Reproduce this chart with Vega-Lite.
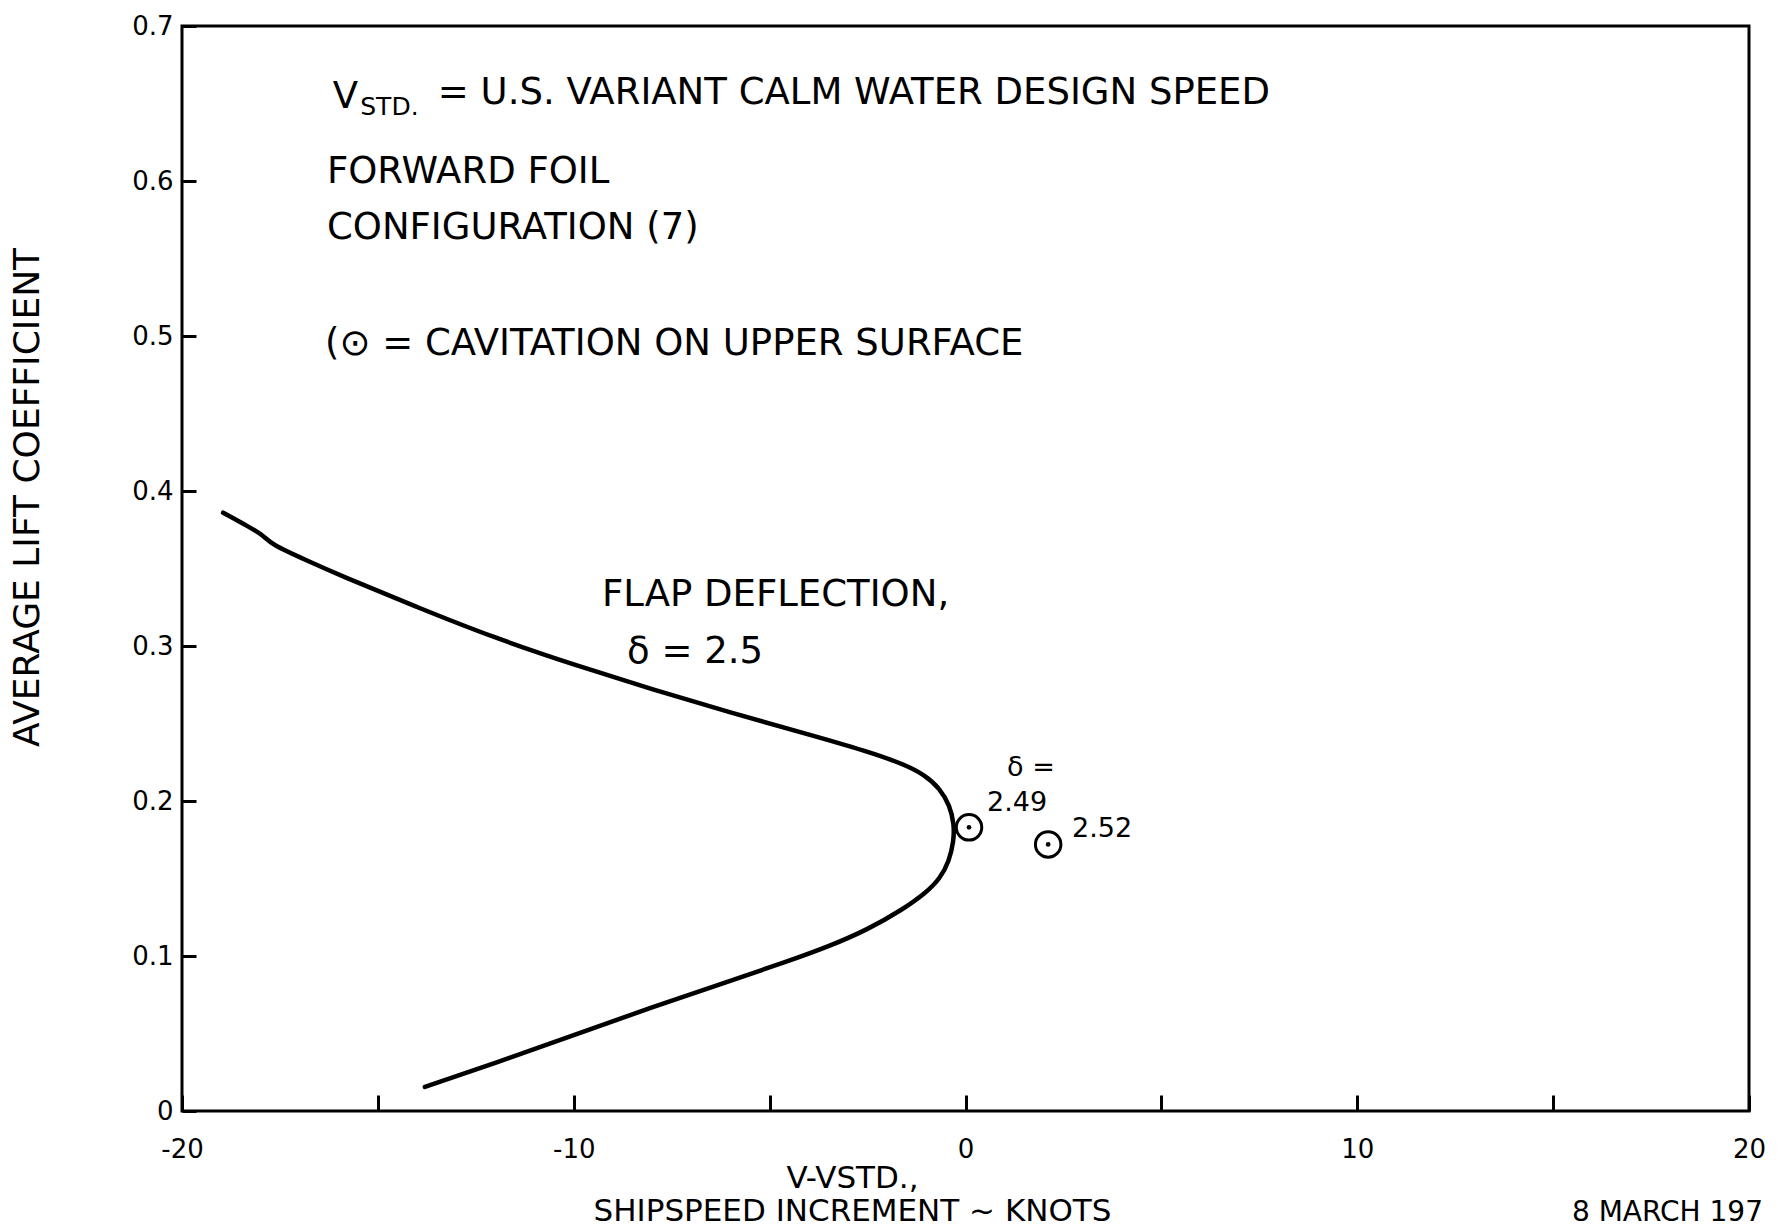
{
  "$schema": "https://vega.github.io/schema/vega-lite/v6.json",
  "width": 1567,
  "height": 1085,
  "autosize": {"type": "none"},
  "padding": {"left": 182, "top": 26, "right": 32, "bottom": 118},
  "background": "white",
  "config": {
    "view": {"stroke": "black", "strokeWidth": 3},
    "font": "DejaVu Sans",
    "text": {"font": "DejaVu Sans", "color": "black"}
  },
  "datasets": {
    "curve": [
      {"v": -18.95, "cl": 0.386},
      {"v": -18.3, "cl": 0.377},
      {"v": -17.9, "cl": 0.371},
      {"v": -17.75, "cl": 0.366},
      {"v": -16.8, "cl": 0.355},
      {"v": -16.0, "cl": 0.346},
      {"v": -14.0, "cl": 0.325},
      {"v": -12.0, "cl": 0.305},
      {"v": -10.0, "cl": 0.288},
      {"v": -8.0, "cl": 0.272},
      {"v": -6.0, "cl": 0.257},
      {"v": -4.0, "cl": 0.243},
      {"v": -2.5, "cl": 0.232},
      {"v": -1.6, "cl": 0.224},
      {"v": -1.05, "cl": 0.217},
      {"v": -0.65, "cl": 0.208},
      {"v": -0.4, "cl": 0.197},
      {"v": -0.29, "cl": 0.185},
      {"v": -0.3, "cl": 0.174},
      {"v": -0.42, "cl": 0.161},
      {"v": -0.65, "cl": 0.150},
      {"v": -1.0, "cl": 0.141},
      {"v": -1.6, "cl": 0.130},
      {"v": -2.5, "cl": 0.117},
      {"v": -3.5, "cl": 0.106},
      {"v": -4.6, "cl": 0.096},
      {"v": -6.0, "cl": 0.084},
      {"v": -8.0, "cl": 0.067},
      {"v": -10.0, "cl": 0.049},
      {"v": -12.0, "cl": 0.031},
      {"v": -13.8, "cl": 0.0155}
    ],
    "cavitation": [
      {"v": 0.09, "cl": 0.183, "delta": 2.49},
      {"v": 2.11, "cl": 0.172, "delta": 2.52}
    ],
    "bigText": [
      {"v": -16.15, "cl": 0.654, "t": "V"},
      {"v": -13.47, "cl": 0.657, "t": "= U.S. VARIANT CALM WATER DESIGN SPEED"},
      {"v": -16.30, "cl": 0.606, "t": "FORWARD FOIL"},
      {"v": -16.30, "cl": 0.570, "t": "CONFIGURATION (7)"},
      {"v": -16.35, "cl": 0.495, "t": "(⊙ = CAVITATION ON UPPER SURFACE"},
      {"v": -9.28, "cl": 0.333, "t": "FLAP DEFLECTION,"},
      {"v": -8.64, "cl": 0.296, "t": "δ = 2.5"}
    ],
    "subText": [
      {"v": -15.45, "cl": 0.648, "t": "STD."}
    ],
    "smallText": [
      {"v": 1.06, "cl": 0.221, "t": "δ ="},
      {"v": 0.55, "cl": 0.199, "t": "2.49"},
      {"v": 2.72, "cl": 0.182, "t": "2.52"}
    ],
    "dateText": [
      {"v": 15.48, "cl": -0.066, "t": "8 MARCH 197"}
    ]
  },
  "layer": [
    {
      "data": {"name": "curve"},
      "mark": {"type": "line", "color": "black", "strokeWidth": 4.5, "interpolate": "basis", "strokeCap": "round"},
      "encoding": {
        "x": {
          "field": "v",
          "type": "quantitative",
          "scale": {"domain": [-20, 20], "nice": false, "zero": false},
          "axis": {
            "title": ["V-VSTD.,", "SHIPSPEED INCREMENT ~ KNOTS"],
            "values": [-20, -15, -10, -5, 0, 5, 10, 15, 20],
            "labelExpr": "datum.value % 10 === 0 ? '' + datum.value : ''",
            "domain": false,
            "grid": false,
            "offset": -16,
            "tickSize": 16,
            "tickWidth": 3,
            "tickColor": "black",
            "labelPadding": 25,
            "labelFontSize": 26,
            "labelColor": "black",
            "labelFont": "DejaVu Sans",
            "labelFlush": false,
            "labelOverlap": false,
            "labelBound": false,
            "titleFont": "DejaVu Sans",
            "titleFontSize": 31,
            "titleFontWeight": "normal",
            "titleColor": "black",
            "titleX": 670,
            "titleY": 68,
            "titleAlign": "center",
            "titleBaseline": "top",
            "titleLineHeight": 33
          }
        },
        "y": {
          "field": "cl",
          "type": "quantitative",
          "scale": {"domain": [0, 0.7], "nice": false},
          "axis": {
            "title": "AVERAGE LIFT COEFFICIENT",
            "values": [0, 0.1, 0.2, 0.3, 0.4, 0.5, 0.6, 0.7],
            "labelExpr": "datum.value === 0 ? '0' : format(datum.value, '.1f')",
            "domain": false,
            "grid": false,
            "offset": -14,
            "tickSize": 14,
            "tickWidth": 3,
            "tickColor": "black",
            "labelPadding": 9,
            "labelFontSize": 26,
            "labelColor": "black",
            "labelFont": "DejaVu Sans",
            "labelFlush": false,
            "labelOverlap": false,
            "labelBound": false,
            "titleFont": "DejaVu Sans",
            "titleFontSize": 36,
            "titleFontWeight": "normal",
            "titleColor": "black",
            "titleAngle": 270,
            "titleX": -169,
            "titleY": 471,
            "titleAlign": "center",
            "titleBaseline": "middle"
          }
        },
        "order": {"field": "cl", "type": "quantitative"}
      }
    },
    {
      "data": {"name": "cavitation"},
      "mark": {"type": "point", "shape": "circle", "filled": false, "size": 650, "color": "black", "strokeWidth": 3, "opacity": 1},
      "encoding": {
        "x": {"field": "v", "type": "quantitative"},
        "y": {"field": "cl", "type": "quantitative"}
      }
    },
    {
      "data": {"name": "cavitation"},
      "mark": {"type": "point", "shape": "circle", "filled": true, "size": 22, "color": "black", "opacity": 1},
      "encoding": {
        "x": {"field": "v", "type": "quantitative"},
        "y": {"field": "cl", "type": "quantitative"}
      }
    },
    {
      "data": {"name": "bigText"},
      "mark": {"type": "text", "fontSize": 37, "align": "left", "baseline": "middle", "color": "black"},
      "encoding": {
        "x": {"field": "v", "type": "quantitative"},
        "y": {"field": "cl", "type": "quantitative"},
        "text": {"field": "t", "type": "nominal"}
      }
    },
    {
      "data": {"name": "subText"},
      "mark": {"type": "text", "fontSize": 25, "align": "left", "baseline": "middle", "color": "black"},
      "encoding": {
        "x": {"field": "v", "type": "quantitative"},
        "y": {"field": "cl", "type": "quantitative"},
        "text": {"field": "t", "type": "nominal"}
      }
    },
    {
      "data": {"name": "smallText"},
      "mark": {"type": "text", "fontSize": 27, "align": "left", "baseline": "middle", "color": "black"},
      "encoding": {
        "x": {"field": "v", "type": "quantitative"},
        "y": {"field": "cl", "type": "quantitative"},
        "text": {"field": "t", "type": "nominal"}
      }
    },
    {
      "data": {"name": "dateText"},
      "mark": {"type": "text", "fontSize": 28, "align": "left", "baseline": "middle", "color": "black"},
      "encoding": {
        "x": {"field": "v", "type": "quantitative"},
        "y": {"field": "cl", "type": "quantitative"},
        "text": {"field": "t", "type": "nominal"}
      }
    }
  ]
}
